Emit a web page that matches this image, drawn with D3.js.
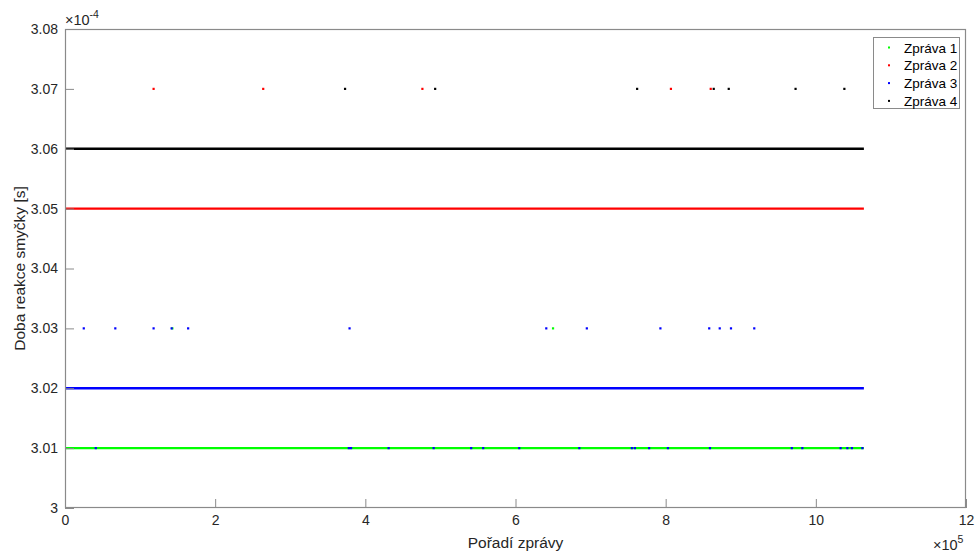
<!DOCTYPE html>
<html>
<head>
<meta charset="utf-8">
<script src="https://cdn.jsdelivr.net/npm/d3@7"></script>
<style>
  html, body { margin: 0; padding: 0; background: #fff; }
  svg { display: block; font-family: "Liberation Sans", Arial, Helvetica, sans-serif; }
</style>
</head>
<body>
<svg id="chart" width="978" height="554"></svg>
<script>
// ---- Data ----
const seriesNames = ["Zpráva 1", "Zpráva 2", "Zpráva 3", "Zpráva 4"];
// dominant (dense) value of each series, in units of 1e-4 s
const baseValues = [3.01, 3.05, 3.02, 3.06];
// message index range of the dense runs
const indexStart = 0;
const indexEnd = 1064000;
// outlier points [message index, value in 1e-4 s]
const outliers1 = [[143000, 3.03], [650000, 3.03]];
const outliers2 = [[118000, 3.07], [264000, 3.07], [476000, 3.07], [807000, 3.07], [860000, 3.07]];
const outliers3 = [
  [25000, 3.03], [67000, 3.03], [118000, 3.03], [142000, 3.03], [164000, 3.03], [379000, 3.03],
  [641000, 3.03], [695000, 3.03], [793000, 3.03], [858000, 3.03], [872000, 3.03], [887000, 3.03], [918000, 3.03],
  [41000, 3.01], [378000, 3.01], [381000, 3.01], [431000, 3.01], [491000, 3.01], [541000, 3.01], [557000, 3.01],
  [605000, 3.01], [685000, 3.01], [755000, 3.01], [759000, 3.01], [778000, 3.01], [803000, 3.01], [859000, 3.01],
  [968000, 3.01], [982000, 3.01], [1033000, 3.01], [1042000, 3.01], [1048000, 3.01], [1062000, 3.01]
];
const outliers4 = [[373000, 3.07], [493000, 3.07], [762000, 3.07], [864000, 3.07], [884000, 3.07], [973000, 3.07], [1038000, 3.07]];
const outlierSets = [outliers1, outliers2, outliers3, outliers4];
const xTicks = [0, 200000, 400000, 600000, 800000, 1000000, 1200000];
const yTicks = [3.00, 3.01, 3.02, 3.03, 3.04, 3.05, 3.06, 3.07, 3.08];

// ---- Styles ----
const colors = ["#00ff00", "#ff0000", "#0000ff", "#000000"];
const textColor = "#262626";
const axisColor = "#8a8a8a";
const fontFamily = "'Liberation Sans', Arial, Helvetica, sans-serif";

const svg = d3.select("#chart");
const m = { left: 65, right: 966, top: 29, bottom: 508 };

const x = d3.scaleLinear().domain([0, 1200000]).range([m.left, m.right]);
const y = d3.scaleLinear().domain([3.00, 3.08]).range([m.bottom, m.top]);

// dense series drawn as lines, plus outliers, in plotting order
const line = d3.line().x(d => x(d[0])).y(d => y(d[1]));
seriesNames.forEach((name, i) => {
  svg.append("path")
    .datum([[indexStart, baseValues[i]], [indexEnd, baseValues[i]]])
    .attr("d", line)
    .attr("stroke", colors[i]).attr("stroke-width", 2.4).attr("fill", "none");
  svg.append("g").selectAll("rect").data(outlierSets[i]).join("rect")
    .attr("x", d => x(d[0]) - 1.1).attr("y", d => y(d[1]) - 1.1)
    .attr("width", 2.2).attr("height", 2.2)
    .attr("fill", colors[i]);
});

// axes
const xAxis = d3.axisBottom(x).tickValues(xTicks).tickFormat(d => d3.format("d")(d / 100000))
  .tickSizeInner(-9).tickSizeOuter(0).tickPadding(7);
const gx = svg.append("g").attr("transform", `translate(0,${m.bottom})`).call(xAxis);
const yAxis = d3.axisLeft(y).tickValues(yTicks).tickFormat(d => d === 3 ? "3" : d3.format(".2f")(d))
  .tickSizeInner(-9).tickSizeOuter(0).tickPadding(7);
const gy = svg.append("g").attr("transform", `translate(${m.left},0)`).call(yAxis);
[gx, gy].forEach(g => {
  g.attr("font-family", fontFamily).attr("font-size", 14);
  g.select(".domain").remove();
  g.selectAll(".tick line").attr("stroke", axisColor).attr("stroke-width", 1);
  g.selectAll(".tick text").attr("fill", textColor);
});

// box
svg.append("rect").attr("x", m.left + 0.5).attr("y", m.top + 0.5)
  .attr("width", m.right - m.left - 1).attr("height", m.bottom - m.top - 1)
  .attr("fill", "none").attr("stroke", axisColor).attr("stroke-width", 1.2);

// exponent labels
const expY = svg.append("text").attr("x", m.left).attr("y", 25)
  .attr("fill", textColor).attr("font-size", 14.5);
expY.append("tspan").text("×10");
expY.append("tspan").attr("dy", -7).attr("font-size", 10.5).text("-4");

const expX = svg.append("text").attr("x", 933).attr("y", 550)
  .attr("fill", textColor).attr("font-size", 14.5);
expX.append("tspan").text("×10");
expX.append("tspan").attr("dy", -7).attr("font-size", 10.5).text("5");

// axis titles
svg.append("text").attr("x", (m.left + m.right) / 2).attr("y", 548)
  .attr("text-anchor", "middle").attr("fill", textColor).attr("font-size", 15.5)
  .text("Pořadí zprávy");
svg.append("text")
  .attr("transform", `translate(25,${(m.top + m.bottom) / 2}) rotate(-90)`)
  .attr("text-anchor", "middle").attr("fill", textColor).attr("font-size", 15.5)
  .text("Doba reakce smyčky [s]");

// legend
const lg = svg.append("g");
lg.append("rect").attr("x", 873.5).attr("y", 37.5).attr("width", 86).attr("height", 71)
  .attr("fill", "#fff").attr("stroke", axisColor).attr("stroke-width", 1);
seriesNames.forEach((name, i) => {
  const cy = 47.5 + i * 17.8;
  lg.append("rect").attr("x", 888).attr("y", cy - 1).attr("width", 2).attr("height", 2).attr("fill", colors[i]);
  lg.append("text").attr("x", 904).attr("y", cy + 5).attr("fill", "#000").attr("font-size", 13.5).text(name);
});
</script>
</body>
</html>
